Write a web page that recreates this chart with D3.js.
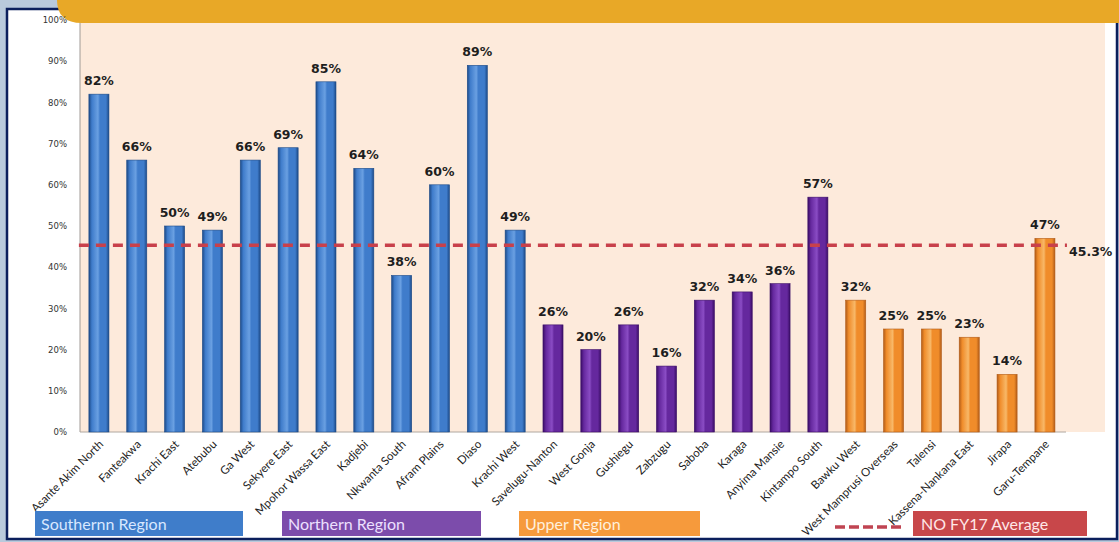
<!DOCTYPE html>
<html><head><meta charset="utf-8">
<script src="https://cdn.jsdelivr.net/npm/d3@7"></script>
<style>body{margin:0;background:#b9cadc;overflow:hidden}</style>
</head><body>
<svg id="c" width="1119" height="542"></svg>
<script>
const categories = ["Asante Akim North","Fanteakwa","Krachi East","Atebubu","Ga West","Sekyere East","Mpohor Wassa East","Kadjebi","Nkwanta South","Afram Plains","Diaso","Krachi West","Savelugu-Nanton","West Gonja","Gushiegu","Zabzugu","Saboba","Karaga","Anyima Mansie","Kintampo South","Bawku West","West Mamprusi Overseas","Talensi","Kassena-Nankana East","Jirapa","Garu-Tempane"];
const values = [82,66,50,49,66,69,85,64,38,60,89,49,26,20,26,16,32,34,36,57,32,25,25,23,14,47];
const regions = ["S","S","S","S","S","S","S","S","S","S","S","S","N","N","N","N","N","N","N","N","U","U","U","U","U","U"];
const regionNames = {S:"Southernn Region",N:"Northern Region",U:"Upper Region"};
const average = 45.3;
const yTicks = [0,10,20,30,40,50,60,70,80,90,100];

const svg = d3.select("#c");
// frame
svg.append("rect").attr("x",7).attr("y",9).attr("width",1110).attr("height",530).attr("fill","#ffffff").attr("stroke","#0b1f5c").attr("stroke-width",2.5);
const pL=80, pR=1105, pT=14, pB=432;
svg.append("rect").attr("x",pL).attr("y",pT).attr("width",pR-pL).attr("height",pB-pT).attr("fill","#fdeadb");
svg.append("line").attr("x1",pL).attr("x2",pL).attr("y1",20).attr("y2",pB).attr("stroke","#a09a96").attr("stroke-width",1);
svg.append("line").attr("x1",pL).attr("x2",1066).attr("y1",pB).attr("y2",pB).attr("stroke","#b0a8a0").attr("stroke-width",1);

// banner
svg.append("path").attr("d",`M57,0 H1119 V23 H82 Q57,23 57,0 Z`).attr("fill","#e8a827");

const x = d3.scaleBand().domain(categories).range([pL, pL+37.84*26]).paddingInner(0.47).paddingOuter(0.235);
const y = d3.scaleLinear().domain([0,100]).range([pB,20]);

const defs = svg.append("defs");
const cols = {S:["#1c4a88","#3f7ccb","#6aa0e2"],N:["#3a0d66","#65289e","#8a4cc4"],U:["#b25c18","#f08c2a","#f8b868"]};
for (const k in cols){
  const g = defs.append("linearGradient").attr("id","g"+k).attr("x1","0").attr("x2","1").attr("y1","0").attr("y2","0");
  const c = cols[k];
  [[0,c[0]],[0.15,c[1]],[0.45,c[2]],[0.55,c[1]],[0.85,c[1]],[1,c[0]]].forEach(s=>g.append("stop").attr("offset",s[0]).attr("stop-color",s[1]));
}

// y axis
const yAxis = d3.axisLeft(y).tickValues(yTicks).tickFormat(d=>d+"%").tickSize(0).tickPadding(13);
const ya = svg.append("g").attr("transform",`translate(${pL},0)`).call(yAxis);
ya.select(".domain").remove();
ya.selectAll("text").attr("font-family","DejaVu Sans").attr("font-size",8.5).attr("fill","#333");

// bars
const data = categories.map((c,i)=>({c,v:values[i],r:regions[i]}));
svg.selectAll("rect.bar").data(data).join("rect").attr("class","bar")
  .attr("x",d=>x(d.c)).attr("width",x.bandwidth())
  .attr("y",d=>y(d.v)).attr("height",d=>pB-y(d.v))
  .attr("fill",d=>"url(#g"+d.r+")").attr("stroke",d=>cols[d.r][0]).attr("stroke-width",0.6);
svg.selectAll("text.val").data(data).join("text").attr("class","val")
  .attr("x",d=>x(d.c)+x.bandwidth()/2).attr("y",d=>y(d.v)-9)
  .attr("text-anchor","middle").attr("font-family","DejaVu Sans").attr("font-weight","bold").attr("font-size",12.5).attr("fill","#1e1e1e")
  .text(d=>d.v+"%");

// x labels
const xa = svg.append("g").attr("transform",`translate(0,${pB})`).call(d3.axisBottom(x).tickSize(0).tickPadding(0));
xa.select(".domain").remove();
xa.selectAll("text").attr("font-family","Lato").attr("font-size",11.5).attr("fill","#222")
  .attr("text-anchor","end").attr("dy",0).attr("transform","translate(5,13) rotate(-45)");

// average line
svg.append("line").attr("x1",x(categories[0])-10).attr("x2",x(categories[25])+x.bandwidth()+12).attr("y1",y(average)).attr("y2",y(average))
  .attr("stroke","#c8404b").attr("stroke-width",3.5).attr("stroke-dasharray","10,7");
svg.append("text").attr("x",1069).attr("y",y(average)+11).attr("font-family","DejaVu Sans").attr("font-weight","bold").attr("font-size",12.5).attr("fill","#1e1e1e").text(average+"%");

// legend
const leg = [{k:"S",x:35,w:208,fill:"#3f7dca",tc:"#d8e8ff"},{k:"N",x:282,w:199,fill:"#7c4cab",tc:"#ece0ff"},{k:"U",x:519,w:181,fill:"#f69a3c",tc:"#fff0dc"}];
leg.forEach(l=>{
  svg.append("rect").attr("x",l.x).attr("y",511).attr("width",l.w).attr("height",25).attr("fill",l.fill);
  svg.append("text").attr("x",l.x+6).attr("y",530).attr("font-family","Lato").attr("font-size",16).attr("fill",l.tc).text(regionNames[l.k]);
});
svg.append("line").attr("x1",835).attr("x2",905).attr("y1",527).attr("y2",527).attr("stroke","#c04452").attr("stroke-width",3.5).attr("stroke-dasharray","10,4");
svg.append("rect").attr("x",913).attr("y",511).attr("width",174).attr("height",25).attr("fill","#c8474a");
svg.append("text").attr("x",921).attr("y",530).attr("font-family","Lato").attr("font-size",16).attr("fill","#ffe8e8").text("NO FY17 Average");
</script>
</body></html>
